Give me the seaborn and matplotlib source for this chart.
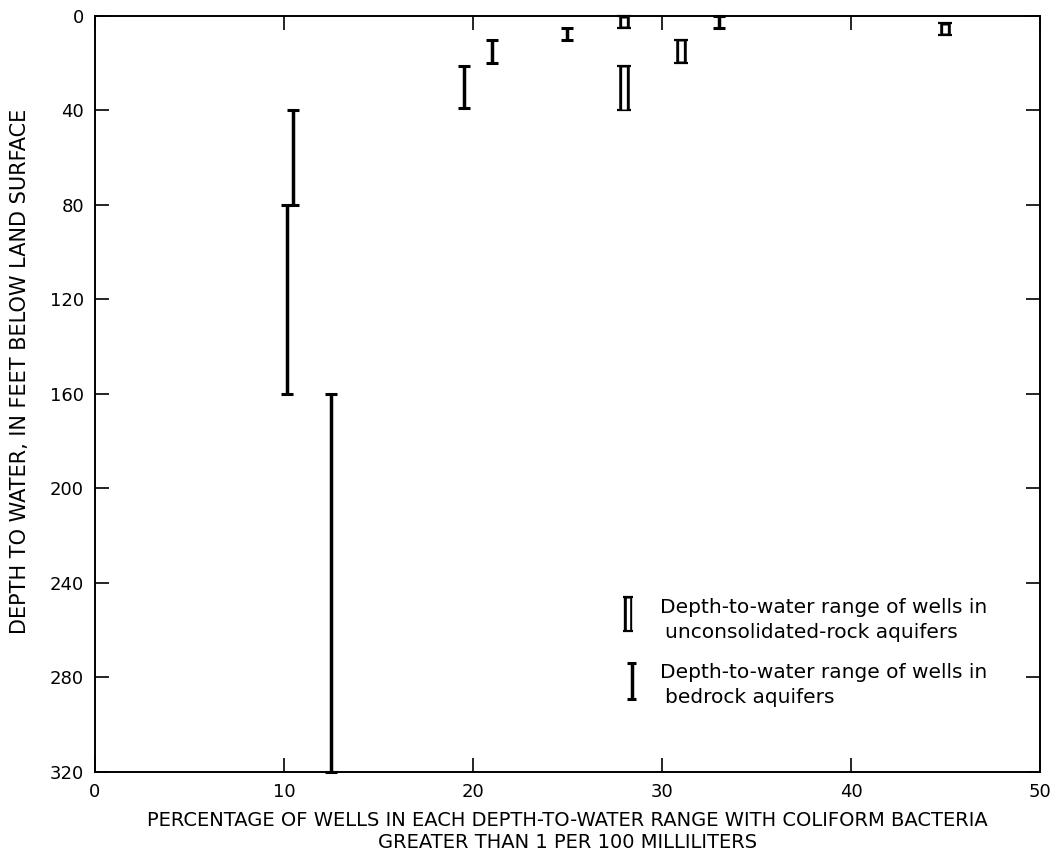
import matplotlib
matplotlib.use("Agg")
import matplotlib.pyplot as plt
import seaborn as sns
import numpy as np

# bedrock aquifers: x = percentage, depth range top..bottom (feet)
bed_x = [10.15, 10.5, 12.5, 19.5, 21.0, 25.0, 33.0]
bed_top = [80, 40, 160, 21, 10, 5, 0]
bed_bot = [160, 80, 320, 39, 20, 10, 5]

# unconsolidated-rock aquifers
unc_x = [28.0, 28.0, 31.0, 45.0]
unc_top = [0, 21, 10, 3]
unc_bot = [5, 40, 20, 8]

x_ticks = [0, 10, 20, 30, 40, 50]
y_ticks = [0, 40, 80, 120, 160, 200, 240, 280, 320]

sns.set_theme(style="ticks")
plt.rcParams["font.family"] = ["DejaVu Sans"]
plt.rcParams["text.color"] = "black"
plt.rcParams["axes.labelcolor"] = "black"

fig = plt.figure(figsize=(10.59, 8.64), dpi=100)
ax = fig.add_axes([0.0897, 0.1065, 0.8923, 0.875])


def solid_bars(ax, x, top, bot):
    top = np.asarray(top, float)
    bot = np.asarray(bot, float)
    ax.errorbar(x, (top + bot) / 2, yerr=(bot - top) / 2, fmt="none", ecolor="black",
                elinewidth=2.5, capsize=4, capthick=2.2, clip_on=False, zorder=3)


def hollow_bars(ax, x, top, bot):
    top = np.asarray(top, float)
    bot = np.asarray(bot, float)
    ax.errorbar(x, (top + bot) / 2, yerr=(bot - top) / 2, fmt="none", ecolor="black",
                elinewidth=7.6, capsize=5, capthick=1.6, clip_on=False, zorder=3)
    # white core -> double line
    ax.vlines(x, top + 0.8, bot - 0.8, colors="white", linewidth=3.4,
              capstyle="butt", clip_on=False, zorder=4)


solid_bars(ax, bed_x, bed_top, bed_bot)
hollow_bars(ax, unc_x, unc_top, unc_bot)

ax.set_xlim(0, 50)
ax.set_ylim(320, 0)
ax.set_xticks(x_ticks)
ax.set_yticks(y_ticks)
ax.tick_params(direction="in", length=10, width=1.2, top=True, right=True,
               labelsize=13, colors="black", pad=8)
for s in ax.spines.values():
    s.set_linewidth(1.4)
    s.set_color("black")
    s.set_visible(True)

ax.set_xlabel("PERCENTAGE OF WELLS IN EACH DEPTH-TO-WATER RANGE WITH COLIFORM BACTERIA\n"
              "GREATER THAN 1 PER 100 MILLILITERS", fontsize=14, linespacing=1.15,
              color="black")
ax.xaxis.set_label_coords(0.5, -0.052)
ax.set_ylabel("DEPTH TO WATER, IN FEET BELOW LAND SURFACE", fontsize=15, color="black")
ax.yaxis.set_label_coords(-0.069, 0.53)

# legend drawn in axes coordinates
tr = ax.transAxes
ax.plot([0.564, 0.564], [0.233, 0.185], color="black", lw=6.0, transform=tr,
        solid_capstyle="butt")
ax.plot([0.564, 0.564], [0.230, 0.188], color="white", lw=2.4, transform=tr,
        solid_capstyle="butt")
for yy in (0.232, 0.186):
    ax.plot([0.5585, 0.5695], [yy, yy], color="black", lw=1.6, transform=tr,
            solid_capstyle="butt")
ax.text(0.598, 0.217, "Depth-to-water range of wells in", transform=tr,
        fontsize=14.5, va="center")
ax.text(0.603, 0.184, "unconsolidated-rock aquifers", transform=tr,
        fontsize=14.5, va="center")

ax.plot([0.568, 0.568], [0.145, 0.095], color="black", lw=2.5, transform=tr,
        solid_capstyle="butt")
for yy in (0.144, 0.096):
    ax.plot([0.563, 0.573], [yy, yy], color="black", lw=2.2, transform=tr,
            solid_capstyle="butt")
ax.text(0.598, 0.132, "Depth-to-water range of wells in", transform=tr,
        fontsize=14.5, va="center")
ax.text(0.603, 0.099, "bedrock aquifers", transform=tr,
        fontsize=14.5, va="center")

fig.savefig("out.png", dpi=100, facecolor="white")
